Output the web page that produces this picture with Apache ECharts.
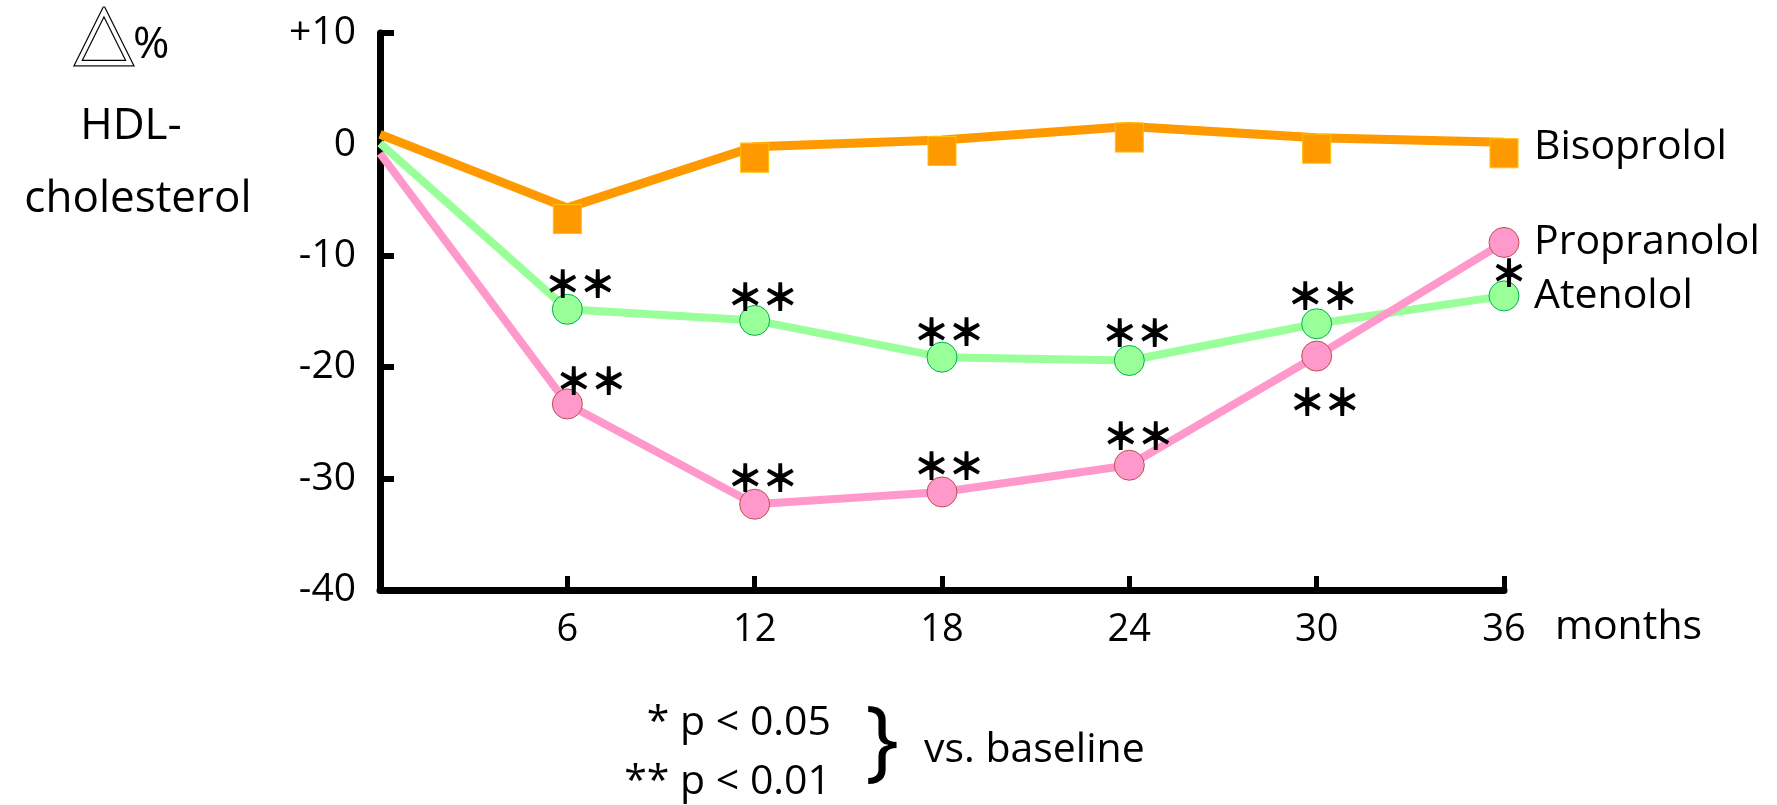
<!DOCTYPE html>
<html><head><meta charset="utf-8">
<script src="https://cdn.jsdelivr.net/npm/echarts@6/dist/echarts.min.js"></script>
<style>html,body{margin:0;padding:0;background:#fff}#c{width:1777px;height:805px}</style>
</head><body><div id="c"></div>
<script>
// ---- data ----
const months = [0, 6, 12, 18, 24, 30, 36];
const xTickLabels = ['', '6', '12', '18', '24', '30', '36'];
const yTickValues = [-40, -30, -20, -10, 0, 10];
const yTickLabels = ['-40', '-30', '-20', '-10', '0', '+10'];
const bisoprolol = [0.9, -5.7, -0.2, 0.4, 1.6, 0.6, 0.2];
const atenolol = [0.1, -14.8, -15.8, -19.1, -19.4, -16.1, -13.6];
const propranolol = [-0.8, -23.3, -32.3, -31.2, -28.8, -19.0, -8.8];
const atenololSig = ['', '**', '**', '**', '**', '**', ''];
const propranololSig = ['', '**', '**', '**', '**', '**', '*'];
const seriesNames = ['Bisoprolol', 'Atenolol', 'Propranolol'];
const yTitle = ['\u25B3', '%', 'HDL-', 'cholesterol'];
const footnote = ['* p < 0.05', '** p < 0.01', '}', 'vs. baseline'];
const xName = 'months';

// ---- styling / layout ----
const FONT = '"Open Sans", "Noto Sans", sans-serif';
const sigStyle = { fontSize: 35, fontFamily: '"Noto Sans CJK JP"', color: '#000', textBorderColor: '#000', textBorderWidth: 2 };
const atenololSigOffset = [null, [13, -26], [8, -24], [7, -25], [8, -28], [6, -28], null];
const propranololSigOffset = [null, [24, -23], [8, -27], [7, -26], [9, -30], [8, 46], [5, 30]];

function toFull(s) { return s.replace(/\*/g, '\uFF0A'); }

function buildData(values, sig, offs) {
  return months.map((m, i) => {
    const item = { value: [m, values[i]] };
    if (i === 0) item.symbol = 'none';
    if (sig && sig[i]) {
      item.label = Object.assign({
        show: true, position: 'inside', formatter: toFull(sig[i]), offset: offs[i]
      }, sigStyle);
    }
    return item;
  });
}

const chart = echarts.init(document.getElementById('c'), null, { renderer: 'canvas' });
chart.setOption({
  animation: false,
  backgroundColor: '#fff',
  grid: { left: 380, right: 273, top: 33, bottom: 215, containLabel: false },
  xAxis: {
    type: 'value', min: 0, max: 36, interval: 6,
    axisLine: { onZero: false, lineStyle: { color: '#000', width: 7 } },
    axisTick: { inside: true, length: 14, lineStyle: { color: '#000', width: 5 } },
    axisLabel: {
      margin: 21, color: '#000', fontSize: 38, fontFamily: FONT,
      formatter: v => xTickLabels[months.indexOf(v)] || ''
    },
    splitLine: { show: false },
    name: xName, nameLocation: 'end', nameGap: 51,
    nameTextStyle: { color: '#000', fontSize: 41, fontFamily: FONT, align: 'left', verticalAlign: 'top', padding: [17, 0, 0, 0] }
  },
  yAxis: {
    type: 'value', min: -40, max: 10, interval: 10,
    axisLine: { show: true, onZero: false, lineStyle: { color: '#000', width: 7 } },
    axisTick: { show: true, inside: true, length: 14, lineStyle: { color: '#000', width: 6 }, customValues: [-30, -20, -10, 10] },
    axisLabel: {
      margin: 24, color: '#000', fontSize: 39, fontFamily: FONT,
      formatter: v => yTickLabels[yTickValues.indexOf(v)]
    },
    splitLine: { show: false }
  },
  series: [
    {
      name: seriesNames[0], type: 'line', data: buildData(bisoprolol),
      symbol: 'rect', symbolSize: [28, 29], symbolOffset: [0, 11], showAllSymbol: true,
      lineStyle: { color: '#FF9900', width: 9 },
      itemStyle: { color: '#FF9900', borderColor: '#FFC000', borderWidth: 1 },
      endLabel: { show: true, formatter: '{a}', distance: 30, offset: [0, 5], color: '#000', fontSize: 41, fontFamily: FONT },
      z: 3
    },
    {
      name: seriesNames[1], type: 'line', data: buildData(atenolol, atenololSig, atenololSigOffset),
      symbol: 'circle', symbolSize: 30, showAllSymbol: true,
      lineStyle: { color: '#99FF99', width: 8 },
      itemStyle: { color: '#99FF99', borderColor: '#00B050', borderWidth: 1 },
      endLabel: { show: true, formatter: '{a}', distance: 30, offset: [0, 0], color: '#000', fontSize: 41, fontFamily: FONT },
      z: 4
    },
    {
      name: seriesNames[2], type: 'line', data: buildData(propranolol, propranololSig, propranololSigOffset),
      symbol: 'circle', symbolSize: 30, showAllSymbol: true,
      lineStyle: { color: '#FF99CC', width: 8 },
      itemStyle: { color: '#FF99CC', borderColor: '#C0504D', borderWidth: 1 },
      endLabel: { show: true, formatter: '{a}', distance: 30, offset: [0, 0], color: '#000', fontSize: 41, fontFamily: FONT },
      z: 5
    }
  ],
  graphic: [
    { type: 'text', x: 104, y: 36, style: { text: yTitle[0], font: '76px "DejaVu Sans"', fill: '#fff', stroke: '#000', lineWidth: 2.5, textAlign: 'center', textVerticalAlign: 'middle' } },
    { type: 'text', x: 133, y: 45, style: { text: yTitle[1], font: '44px ' + FONT, fill: '#000', textAlign: 'left', textVerticalAlign: 'middle' } },
    { type: 'text', x: 131, y: 126, style: { text: yTitle[2], font: '44px ' + FONT, fill: '#000', textAlign: 'center', textVerticalAlign: 'middle' } },
    { type: 'text', x: 138, y: 199, style: { text: yTitle[3], font: '44px ' + FONT, fill: '#000', textAlign: 'center', textVerticalAlign: 'middle' } },
    { type: 'text', x: 831, y: 723, style: { text: footnote[0], font: '41px ' + FONT, fill: '#000', textAlign: 'right', textVerticalAlign: 'middle' } },
    { type: 'text', x: 831, y: 782, style: { text: footnote[1], font: '41px ' + FONT, fill: '#000', textAlign: 'right', textVerticalAlign: 'middle' } },
    { type: 'text', x: 882, y: 744, style: { text: footnote[2], font: '90px ' + FONT, fill: '#000', textAlign: 'center', textVerticalAlign: 'middle' } },
    { type: 'text', x: 924, y: 750, style: { text: footnote[3], font: '41px ' + FONT, fill: '#000', textAlign: 'left', textVerticalAlign: 'middle' } }
  ]
});
</script></body></html>
